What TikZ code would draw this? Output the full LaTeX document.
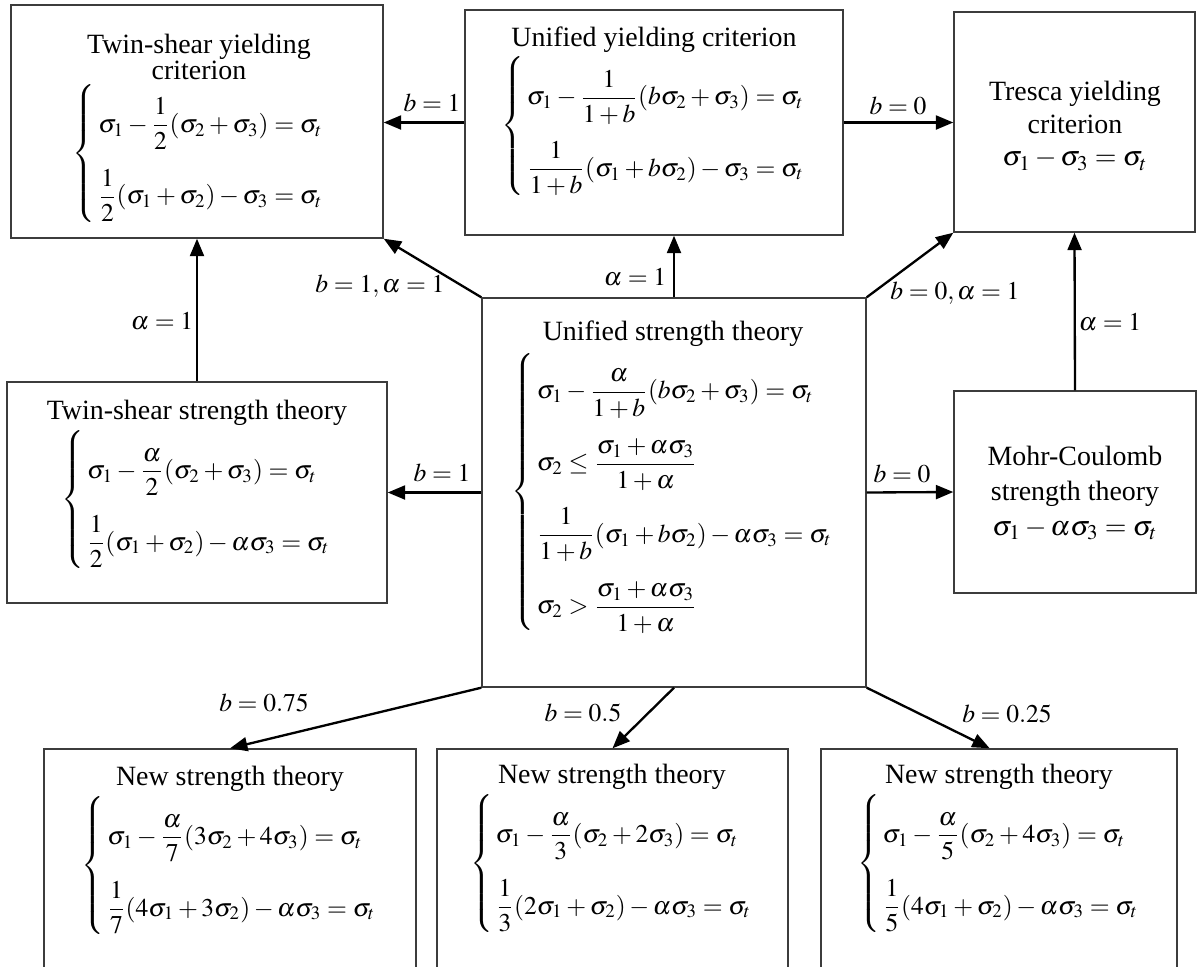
\documentclass[tikz,border=0pt]{standalone}
\usepackage{amsmath}
\usepackage{mathptmx}
\usepackage{fontspec}
\setmainfont{Liberation Serif}
\usetikzlibrary{arrows.meta,fit}
\definecolor{frame1}{HTML}{3c3c3c}
% system of equations with a left brace
\newcommand{\eqsys}[1]{{\fontsize{11}{11}\selectfont
  $\renewcommand{\arraystretch}{2.8}\left\{\begin{array}{@{\,}l@{}}#1\end{array}\right.$}}

\begin{document}
\begin{tikzpicture}[x=0.43pt, y=-0.43pt, font=\fontsize{12}{11}\selectfont,
  box/.style={draw=frame1, line width=0.6pt, inner sep=0pt},
  txt/.style={align=center, inner sep=0pt},
  lbl/.style={inner sep=0pt, font=\fontsize{11}{11}\selectfont},
  arr/.style={line width=1pt, -{Triangle[length=7.5pt,width=6pt]}}]

\useasboundingbox (0,0) rectangle (1197,967);
\clip (0,0) rectangle (1197,967);

% frames
\node[box, fit={(11,5) (383,238)}] (tsy) {};
\node[box, fit={(465,10) (843,235)}] (uy) {};
\node[box, fit={(954,12) (1195,232)}] (try) {};
\node[box, fit={(482,298) (866,687)}] (ust) {};
\node[box, fit={(7,382) (387,603)}] (tss) {};
\node[box, fit={(954,391) (1196,593)}] (mc) {};
\node[box, fit={(44,749) (416,1000)}] (ns1) {};
\node[box, fit={(437,749) (788,1000)}] (ns2) {};
\node[box, fit={(821,749) (1177,1000)}] (ns3) {};

% texts
\node[txt] (tsy-t) at (199,130) {Twin-shear yielding\\criterion\\
\eqsys{\sigma_1-\dfrac{1}{2}(\sigma_2+\sigma_3)=\sigma_t\\
\dfrac{1}{2}(\sigma_1+\sigma_2)-\sigma_3=\sigma_t}};

\node[txt] (uy-t) at (654,112) {Unified yielding criterion\\
\eqsys{\sigma_1-\dfrac{1}{1+b}(b\sigma_2+\sigma_3)=\sigma_t\\
\dfrac{1}{1+b}(\sigma_1+b\sigma_2)-\sigma_3=\sigma_t}};

\node[txt] (try-t) at (1075,126) {Tresca yielding\\[3pt]criterion\\[3pt]
$\sigma_1-\sigma_3=\sigma_t$};

\node[txt] (ust-t) at (673,478) {Unified strength theory\\
\eqsys{\sigma_1-\dfrac{\alpha}{1+b}(b\sigma_2+\sigma_3)=\sigma_t\\
\sigma_2\le\dfrac{\sigma_1+\alpha\sigma_3}{1+\alpha}\\
\dfrac{1}{1+b}(\sigma_1+b\sigma_2)-\alpha\sigma_3=\sigma_t\\
\sigma_2>\dfrac{\sigma_1+\alpha\sigma_3}{1+\alpha}}};

\node[txt] (tss-t) at (197,486) {Twin-shear strength theory\\
\eqsys{\sigma_1-\dfrac{\alpha}{2}(\sigma_2+\sigma_3)=\sigma_t\\
\dfrac{1}{2}(\sigma_1+\sigma_2)-\alpha\sigma_3=\sigma_t}};

\node[txt] (mc-t) at (1075,493) {Mohr-Coulomb\\[4pt]strength theory\\[4pt]
$\sigma_1-\alpha\sigma_3=\sigma_t$};

\node[txt] (ns1-t) at (230,852) {New strength theory\\
\eqsys{\sigma_1-\dfrac{\alpha}{7}(3\sigma_2+4\sigma_3)=\sigma_t\\
\dfrac{1}{7}(4\sigma_1+3\sigma_2)-\alpha\sigma_3=\sigma_t}};

\node[txt] (ns2-t) at (612,850) {New strength theory\\
\eqsys{\sigma_1-\dfrac{\alpha}{3}(\sigma_2+2\sigma_3)=\sigma_t\\
\dfrac{1}{3}(2\sigma_1+\sigma_2)-\alpha\sigma_3=\sigma_t}};

\node[txt] (ns3-t) at (999,850) {New strength theory\\
\eqsys{\sigma_1-\dfrac{\alpha}{5}(\sigma_2+4\sigma_3)=\sigma_t\\
\dfrac{1}{5}(4\sigma_1+\sigma_2)-\alpha\sigma_3=\sigma_t}};

% arrows
\draw[arr] (uy.west) -- (tsy.east |- uy.west);
\draw[arr] (uy.east) -- (try.west |- uy.east);
\draw[arr] (ust.north) -- (ust.north |- uy.south);
\draw[arr] (ust.north west) -- (tsy.south east);
\draw[arr] (ust.north east) -- (try.south west);
\draw[arr] (tss.north) -- (tsy.south);
\draw[arr] (mc.north) -- (try.south);
\draw[arr] (ust.west) -- (tss.east);
\draw[arr] (ust.east) -- (mc.west);
\draw[arr] (ust.south west) -- (ns1.north);
\draw[arr] (ust.south) -- (ns2.north);
\draw[arr] (ust.south east) -- ([xshift=-4pt]ns3.north);

% labels
\node[lbl] (l1) at (432,103) {$b=1$};
\node[lbl] (l2) at (898,106) {$b=0$};
\node[lbl] (l3) at (635,277) {$\alpha=1$};
\node[lbl] (l4) at (380,286) {$b=1,\alpha=1$};
\node[lbl] (l5) at (955,293) {$b=0,\alpha=1$};
\node[lbl] (l6) at (162,321) {$\alpha=1$};
\node[lbl] (l7) at (1110,322) {$\alpha=1$};
\node[lbl] (l8) at (442,473) {$b=1$};
\node[lbl] (l9) at (902,474) {$b=0$};
\node[lbl] (l10) at (264,703) {$b=0.75$};
\node[lbl] (l11) at (583,713) {$b=0.5$};
\node[lbl] (l12) at (1007,714) {$b=0.25$};
\end{tikzpicture}
\end{document}
